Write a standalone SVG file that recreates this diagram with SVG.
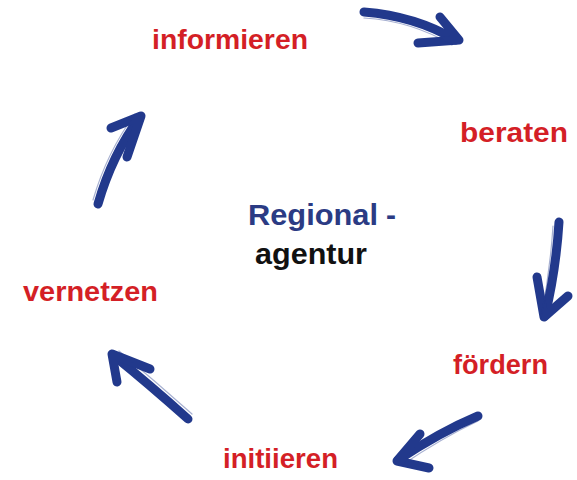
<svg xmlns="http://www.w3.org/2000/svg" width="577" height="480" viewBox="0 0 577 480">
<style>
.lbl{font-family:"Liberation Sans",Arial,sans-serif;font-weight:bold;font-size:28px;fill:#d41f26}
.ctr{font-family:"Liberation Sans",Arial,sans-serif;font-weight:bold;font-size:30px}
.arr{fill:none;stroke:#22398c;stroke-width:9;stroke-linecap:round;stroke-linejoin:round}
.brush{fill:none;stroke:#22398c;stroke-width:1.2;stroke-opacity:0.4;stroke-linecap:round}
</style>
<rect width="577" height="480" fill="#ffffff"/>
<g id="connectors">
  <g id="arrow-top">
    <path class="arr" d="M364,12 Q415,16 456,40"/>
    <path class="arr" d="M440,17 L459,40 L418,43"/>
    <path class="brush" d="M364,18 Q412,21 452,45"/>
  </g>
  <g id="arrow-right">
    <path class="arr" d="M559,222 Q556,270 545,316"/>
    <path class="arr" d="M537,277 L544,317 L568,296"/>
    <path class="brush" d="M553,226 Q550,272 541,318"/>
  </g>
  <g id="arrow-bottom-right">
    <path class="arr" d="M478,416 Q440,432 398,460"/>
    <path class="arr" d="M420,434 L397,461 L429,468"/>
    <path class="brush" d="M478,421 Q442,438 402,465"/>
  </g>
  <g id="arrow-bottom-left">
    <path class="arr" d="M188,419 Q150,385 113,355"/>
    <path class="arr" d="M117,382 L112,354 L150,369"/>
    <path class="brush" d="M192,414 Q155,381 119,351"/>
  </g>
  <g id="arrow-left">
    <path class="arr" d="M98,204 Q112,155 140,117"/>
    <path class="arr" d="M111,128 L141,116 L127,157"/>
    <path class="brush" d="M93,200 Q107,152 135,114"/>
  </g>
</g>
<g id="node-informieren"><text class="lbl" x="152" y="49" textLength="156" lengthAdjust="spacingAndGlyphs">informieren</text></g>
<g id="node-beraten"><text class="lbl" x="460" y="142" textLength="108" lengthAdjust="spacingAndGlyphs">beraten</text></g>
<g id="node-foerdern"><text class="lbl" x="453" y="374" textLength="95" lengthAdjust="spacingAndGlyphs">fördern</text></g>
<g id="node-initiieren"><text class="lbl" x="223" y="468" textLength="115" lengthAdjust="spacingAndGlyphs">initiieren</text></g>
<g id="node-vernetzen"><text class="lbl" x="23" y="301" textLength="135" lengthAdjust="spacingAndGlyphs">vernetzen</text></g>
<g id="node-center">
  <text class="ctr" x="248" y="225" fill="#2b3b84" textLength="130" lengthAdjust="spacingAndGlyphs">Regional</text>
  <text class="ctr" x="386" y="225" fill="#2b3b84">-</text>
  <text class="ctr" x="255" y="264" fill="#111111" textLength="112" lengthAdjust="spacingAndGlyphs">agentur</text>
</g>
</svg>
